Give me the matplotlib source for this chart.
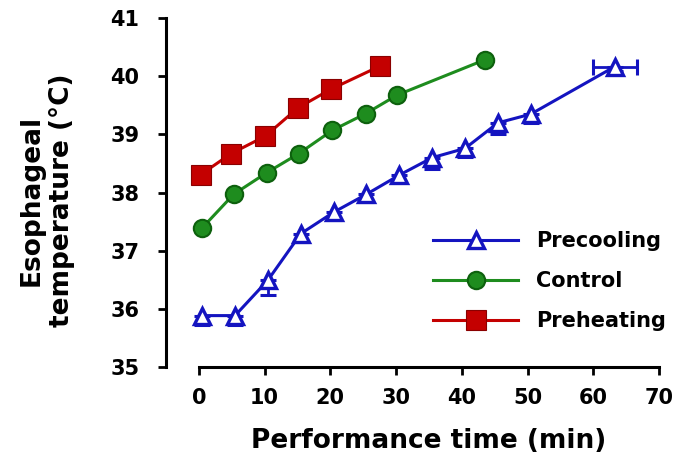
"""Esophageal temperature during performance after precooling, control and preheating."""

import matplotlib

matplotlib.use("Agg")

import matplotlib.pyplot as plt
from matplotlib.lines import Line2D

# Precooling (blue triangles, lower SE bars only)
pre_time = [0.5, 5.5, 10.5, 15.5, 20.5, 25.5, 30.5, 35.5, 40.5, 45.5, 50.5, 63.3]
pre_temp = [35.88, 35.88, 36.49, 37.29, 37.66, 37.97, 38.30, 38.60, 38.76, 39.20, 39.35, 40.17]
pre_yerr = [0.17, 0.17, 0.26, 0.15, 0.14, 0.13, 0.12, 0.19, 0.15, 0.19, 0.16, 0.08]
pre_xerr = [0, 0, 0, 0, 0, 0, 0, 0, 0, 0, 0, 3.3]

# Control (green circles)
ctl_time = [0.5, 5.3, 10.3, 15.2, 20.3, 25.4, 30.2, 43.6]
ctl_temp = [37.39, 37.97, 38.34, 38.67, 39.07, 39.36, 39.68, 40.29]

# Preheating (red squares)
heat_time = [0.3, 4.9, 10.1, 15.1, 20.1, 27.6]
heat_temp = [38.31, 38.67, 38.97, 39.46, 39.78, 40.18]

x_ticks = [0, 10, 20, 30, 40, 50, 60, 70]
y_ticks = [35, 36, 37, 38, 39, 40, 41]

BLUE = "#1414c0"
GREEN = "#1e8c1e"
GREEN_EDGE = "#0d600d"
RED = "#c40000"

plt.rcParams["font.family"] = "DejaVu Sans"
plt.rcParams["font.weight"] = "bold"

fig = plt.figure(figsize=(6.86, 4.65), dpi=100)
ax = fig.add_axes([0.242, 0.2114, 0.7186, 0.7492])

blue_style = dict(color=BLUE, lw=2.2, marker="^", ms=11, mfc="white", mec=BLUE, mew=2.4)
green_style = dict(color=GREEN, lw=2.2, marker="o", ms=12.5, mfc=GREEN, mec=GREEN_EDGE, mew=1.5)
red_style = dict(color=RED, lw=2.2, marker="s", ms=14, mfc=RED, mec="#8a0000", mew=0.8)

# one-sided (downward) vertical bars, symmetric horizontal bar on the last point
yerr_low_high = [pre_yerr, [0] * len(pre_yerr)]
ax.errorbar(
    pre_time, pre_temp, yerr=yerr_low_high, xerr=pre_xerr,
    fmt="none", ecolor=BLUE, elinewidth=2, capsize=5.5, capthick=2.2, zorder=2,
)
ax.plot(pre_time, pre_temp, zorder=3, clip_on=False, **blue_style)
ax.plot(ctl_time, ctl_temp, zorder=3, clip_on=False, **green_style)
ax.plot(heat_time, heat_temp, zorder=3, clip_on=False, **red_style)

ax.set_xlim(-5, 70)
ax.set_ylim(35, 41)
ax.set_xticks(x_ticks)
ax.set_yticks(y_ticks)

for side in ("top", "right"):
    ax.spines[side].set_visible(False)
ax.spines["bottom"].set_bounds(0, 70)
ax.spines["left"].set_bounds(35, 41)
for side in ("bottom", "left"):
    ax.spines[side].set_linewidth(2.2)

ax.tick_params(axis="both", direction="out", length=6, width=2, labelsize=15)
ax.tick_params(axis="y", pad=13)
ax.tick_params(axis="x", pad=9)

ax.set_xlabel("Performance time (min)", fontsize=19, fontweight="bold", va="center")
ax.xaxis.set_label_coords(0.533, -0.213)
ax.set_ylabel(
    "Esophageal\ntemperature (°C)", fontsize=19, fontweight="bold",
    va="center", linespacing=1.25,
)
ax.yaxis.set_label_coords(-0.242, 0.478)

handles = [
    Line2D([], [], **blue_style),
    Line2D([], [], **green_style),
    Line2D([], [], **red_style),
]
ax.legend(
    handles,
    ["Precooling", "Control", "Preheating"],
    loc="upper left",
    bbox_to_anchor=(433 / 686, (465 - 231) / 465),
    bbox_transform=fig.transFigure,
    frameon=False,
    prop={"size": 15, "weight": "bold"},
    handlelength=4.1,
    handletextpad=0.85,
    labelspacing=0.97,
    borderpad=0,
    borderaxespad=0,
)

fig.savefig("out.png", dpi=100)
plt.close(fig)
